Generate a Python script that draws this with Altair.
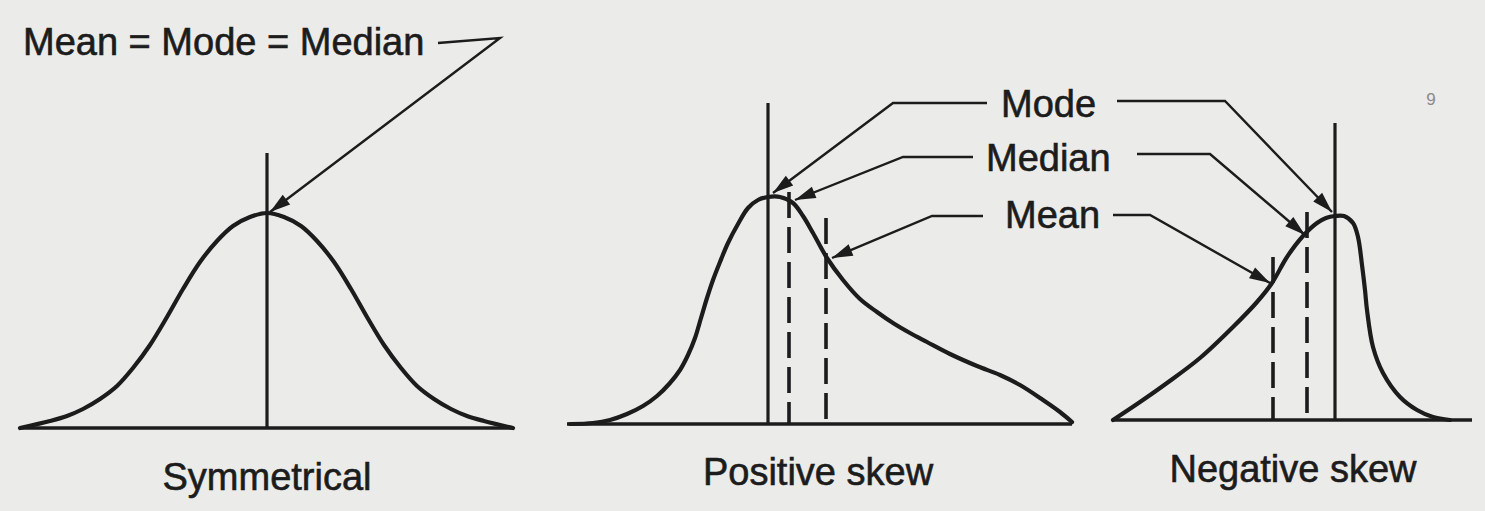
import altair as alt
import pandas as pd
import numpy as np

W, H = 1485, 511
INK = "#1c1c1c"
BG = "#ebebe9"
FONT = "Liberation Sans"

# ---- curves (pixel-like coordinates, y downward) ----
sym_x = [20, 50, 67, 83, 100, 117, 133, 150, 167, 183, 200, 217, 233, 250, 267,
         284, 301, 317, 334, 351, 367, 384, 401, 417, 434, 451, 467, 484, 513]
sym_y = [428, 421, 416, 409, 399, 386, 368, 345, 317, 289, 262, 241, 226, 217, 213,
         217, 226, 241, 262, 289, 317, 345, 368, 386, 399, 409, 416, 421, 428]

pos_x = [570, 593, 610, 627, 643, 657, 670, 680, 688, 695, 701, 707, 713, 720, 728,
         738, 748, 758, 768, 780, 793, 803, 813, 827, 843, 860, 877, 893, 910, 927,
         950, 977, 1000, 1020, 1043, 1060, 1072]
pos_y = [424, 423, 420, 414, 406, 396, 383, 370, 355, 338, 318, 298, 280, 262, 243,
         224, 208, 200, 197, 197, 203, 216, 233, 258, 280, 299, 312, 323, 333, 342,
         354, 366, 375, 385, 400, 412, 422]

neg_x = [1113, 1140, 1167, 1200, 1233, 1257, 1272, 1287, 1303, 1317, 1326, 1335,
         1344, 1353, 1358, 1362, 1365, 1367, 1373, 1383, 1400, 1417, 1433, 1450]
neg_y = [420, 402, 383, 358, 327, 302, 283, 257, 236, 223, 218, 216,
         216, 223, 237, 265, 290, 310, 347, 373, 397, 410, 417, 420]

# ---- baselines: x start, x end, y ----
base_x1 = [20, 567, 1113]
base_x2 = [513, 1072, 1472]
base_y = [428, 424, 420]

# ---- vertical markers: x, top, bottom, dashed? ----
vm_x = [267, 768, 789, 826, 1335, 1307, 1273]
vm_top = [153, 103, 192, 218, 123, 212, 257]
vm_bot = [428, 424, 424, 424, 420, 420, 420]
vm_dash = [False, False, True, True, False, True, True]

# ---- leader arrows (polyline, last point is the tip) ----
arrow_id = ["a0"] * 3 + ["pmo"] * 3 + ["pme"] * 3 + ["pmn"] * 3 + ["nmo"] * 3 + ["nme"] * 3 + ["nmn"] * 3
arrow_x = [438, 500, 270,
           987, 893, 773,
           973, 903, 795,
           983, 932, 832,
           1117, 1225, 1332,
           1137, 1210, 1305,
           1113, 1150, 1270]
arrow_y = [43, 38, 212,
           103, 103, 193,
           157, 157, 200,
           216, 216, 258,
           101, 101, 212,
           154, 154, 235,
           215, 215, 283]

# ---- labels ----
lab_text = ["Mean = Mode = Median", "Mode", "Median", "Mean"]
lab_x = [23, 1001, 986, 1005]
lab_y = [55, 117, 171, 228]

title_text = ["Symmetrical", "Positive skew", "Negative skew"]
title_x = [267, 818, 1293]
title_y = [490, 485, 482]

# ---------------------------------------------------------------------------
curves = pd.DataFrame({
    "x": sym_x + pos_x + neg_x,
    "y": sym_y + pos_y + neg_y,
    "curve": ["sym"] * len(sym_x) + ["pos"] * len(pos_x) + ["neg"] * len(neg_x),
    "ord": list(range(len(sym_x))) + list(range(len(pos_x))) + list(range(len(neg_x))),
})
bases = pd.DataFrame({"x": base_x1, "x2": base_x2, "y": base_y})
vm = pd.DataFrame({"x": vm_x, "y": vm_top, "y2": vm_bot, "dash": vm_dash})
arrows = pd.DataFrame({"x": arrow_x, "y": arrow_y, "id": arrow_id,
                       "ord": list(range(len(arrow_x)))})

heads = []
for aid, g in arrows.groupby("id", sort=False):
    p, t = g.iloc[-2], g.iloc[-1]
    ang = float(np.degrees(np.arctan2(t["y"] - p["y"], t["x"] - p["x"]))) % 360
    heads.append({"x": t["x"], "y": t["y"], "ang": ang})
heads = pd.DataFrame(heads)

labels = pd.DataFrame({"x": lab_x, "y": lab_y, "t": lab_text})
titles = pd.DataFrame({"x": title_x, "y": title_y, "t": title_text})
page = pd.DataFrame({"x": [1431], "y": [100], "t": ["9"]})

xs = alt.Scale(domain=[0, W], nice=False, zero=False)
ys = alt.Scale(domain=[0, H], nice=False, zero=False, reverse=True)
X = lambda f="x": alt.X(f"{f}:Q", scale=xs, axis=None)
Y = lambda f="y": alt.Y(f"{f}:Q", scale=ys, axis=None)

curve_layer = alt.Chart(curves).mark_line(
    color=INK, strokeWidth=4.2, interpolate="catmull-rom", strokeCap="round"
).encode(x=X(), y=Y(), detail="curve:N", order="ord:Q")

base_layer = alt.Chart(bases).mark_rule(color=INK, strokeWidth=3.6).encode(
    x=X(), x2="x2:Q", y=Y())

solid_layer = alt.Chart(vm[~vm["dash"]]).mark_rule(color=INK, strokeWidth=3.2).encode(
    x=X(), y=Y(), y2="y2:Q")

dash_layer = alt.Chart(vm[vm["dash"]]).mark_rule(
    color=INK, strokeWidth=3.6, strokeDash=[26, 9]
).encode(x=X(), y=Y(), y2="y2:Q")

arrow_layer = alt.Chart(arrows).mark_line(color=INK, strokeWidth=2.4).encode(
    x=X(), y=Y(), detail="id:N", order="ord:Q")

head_layer = alt.Chart(heads).mark_point(
    shape="M0,0L-1,-0.3L-1,0.3Z", filled=True, color=INK, opacity=1,
    size=1700, strokeWidth=0
).encode(x=X(), y=Y(), angle=alt.Angle("ang:Q", scale=None))

label_layer = alt.Chart(labels).mark_text(
    align="left", baseline="alphabetic", font=FONT, fontSize=38, color=INK,
    stroke=INK, strokeWidth=0.6
).encode(x=X(), y=Y(), text="t:N")

title_layer = alt.Chart(titles).mark_text(
    align="center", baseline="alphabetic", font=FONT, fontSize=38, color=INK,
    stroke=INK, strokeWidth=0.6
).encode(x=X(), y=Y(), text="t:N")

page_layer = alt.Chart(page).mark_text(
    align="center", baseline="middle", font=FONT, fontSize=17, color="#8a8a8a"
).encode(x=X(), y=Y(), text="t:N")

chart = alt.layer(
    base_layer, curve_layer, solid_layer, dash_layer, arrow_layer, head_layer,
    label_layer, title_layer, page_layer
).properties(
    width=W, height=H, padding=0, autosize="none", background=BG
).configure_view(stroke=None)

chart.save("out.html", embed_options={"renderer": "svg", "actions": False})
